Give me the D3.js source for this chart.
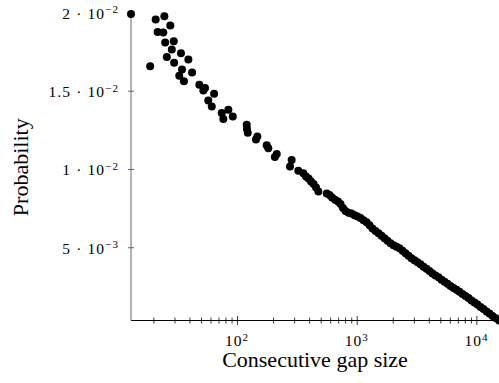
<!DOCTYPE html>
<html>
<head>
<meta charset="utf-8">
<script src="https://cdn.jsdelivr.net/npm/d3@7"></script>
<style>
  body { margin: 0; background: #fff; }
  text { font-family: "Liberation Serif", "DejaVu Serif", serif; fill: #000; }
</style>
</head>
<body>
<svg id="chart"></svg>
<script>
var svgWidth = 499, svgHeight = 383;

// consecutive gap size (x) and probability (y)
var gap = [13, 18.8, 20.9, 21.7, 24.2, 24.7, 25.1, 25.9, 27.7, 28.5, 29.6, 29.8,
  32.9, 34.0, 34.7, 36.0, 39.2, 42.1, 48.4, 52.3, 54.0, 57.5, 61.5, 64.3, 74.5,
  76.8, 84.6, 92.1, 120.5, 121, 122.9, 144, 147.8, 177, 182.5, 207, 214.6, 277,
  286, 325, 358, 377, 396, 415, 436, 457, 478, 562, 593, 622, 659, 698, 732, 768,
  806, 854, 905, 959, 1016, 1076, 1140, 1208, 1279, 1355, 1436, 1521, 1612, 1707,
  1808, 1916, 2030, 2150, 2278, 2413, 2556, 2708, 2869, 3040, 3220, 3412, 3614,
  3829, 4057, 4298, 4553, 4824, 5110, 5414, 5736, 6076, 6437, 6820, 7225, 7654,
  8109, 8590, 9101, 9641, 10210, 10820, 11460, 12150, 12860, 13630, 14440, 15450];
var prob = [0.0199, 0.01657, 0.01955, 0.01875, 0.01872, 0.01976, 0.01808, 0.01716,
  0.01917, 0.01763, 0.01816, 0.01678, 0.01596, 0.0174, 0.01635, 0.0156, 0.01699,
  0.01617, 0.01538, 0.01502, 0.01517, 0.01438, 0.01399, 0.01481, 0.01357, 0.01319,
  0.01378, 0.01335, 0.01282, 0.01256, 0.01231, 0.01189, 0.01207, 0.01151, 0.01133,
  0.01077, 0.01096, 0.01015, 0.01058, 0.00989, 0.00972, 0.00952, 0.00939, 0.0092,
  0.00904, 0.00881, 0.00856, 0.00844, 0.00833, 0.00817, 0.00804, 0.00792, 0.00776,
  0.0075, 0.00731, 0.00721, 0.00715, 0.00705, 0.00696, 0.00686, 0.00673, 0.0066,
  0.00641, 0.00619, 0.00603, 0.0059, 0.00574, 0.00558, 0.00542, 0.00526, 0.00513,
  0.00503, 0.00494, 0.00478, 0.00462, 0.00446, 0.00429, 0.00417, 0.00404, 0.00391,
  0.00375, 0.00362, 0.00349, 0.00333, 0.0032, 0.00308, 0.00292, 0.00279, 0.00266,
  0.00253, 0.0024, 0.00228, 0.00215, 0.00202, 0.00189, 0.00176, 0.0016, 0.00147,
  0.00135, 0.00119, 0.00106, 0.0009, 0.00077, 0.00061, 0.00048, 0.00032];

var yTicks = [0.005, 0.01, 0.015, 0.02];
var yTickMant = ["5", "1", "1.5", "2"];
var yTickExp = ["\u22123", "\u22122", "\u22122", "\u22122"];
var xTicks = [100, 1000, 10000];
var xTickExp = ["2", "3", "4"];

var plotLeft = 131, plotRight = 499, plotTop = 14, plotBottom = 320.5;

var x = d3.scaleLog().domain(d3.extent(gap)).range([plotLeft, plotRight]);
var y = d3.scaleLinear().domain(d3.extent(prob)).range([plotBottom, plotTop]);

var svg = d3.select("#chart")
    .attr("width", svgWidth)
    .attr("height", svgHeight);

// minor ticks on the log axis: 2..9 times each power of ten inside the domain
var minor = [];
[10, 100, 1000, 10000].forEach(function(p) {
  for (var k = 2; k <= 9; k++) {
    var v = k * p;
    if (v >= x.domain()[0] && v <= x.domain()[1]) minor.push(v);
  }
});

var xAxis = svg.append("g")
    .attr("transform", "translate(0," + plotBottom + ")")
    .call(d3.axisBottom(x).tickValues(minor.concat(xTicks)).tickFormat("").tickSizeOuter(0));
xAxis.select(".domain").attr("stroke", "#000").attr("stroke-width", 1)
    .attr("d", "M" + plotLeft + ",0H" + plotRight);
xAxis.selectAll(".tick line")
    .attr("stroke", "#000").attr("stroke-width", 0.8)
    .attr("y1", d => xTicks.indexOf(d) >= 0 ? -4.5 : -3)
    .attr("y2", d => xTicks.indexOf(d) >= 0 ? 4.5 : 3);

var yAxis = svg.append("g")
    .attr("transform", "translate(" + plotLeft + ",0)")
    .call(d3.axisLeft(y).tickValues(yTicks).tickFormat("").tickSizeOuter(0));
yAxis.select(".domain").attr("stroke", "#666").attr("stroke-width", 1)
    .attr("d", "M0," + plotTop + "V" + plotBottom);
yAxis.selectAll(".tick line")
    .attr("stroke", "#444").attr("stroke-width", 0.8)
    .attr("x1", -3).attr("x2", 3);

// tick labels, written as mantissa/power with a raised exponent
var xl = svg.append("g").selectAll("text")
    .data(xTicks)
    .enter()
    .append("text")
    .attr("x", d => x(d))
    .attr("y", 346)
    .attr("text-anchor", "middle")
    .style("font-size", "15.5px")
    .style("letter-spacing", "1px");
xl.append("tspan").text("10");
xl.append("tspan").attr("dy", -5.5).style("font-size", "11px").text((d, i) => xTickExp[i]);

var yl = svg.append("g").selectAll("text")
    .data(yTicks)
    .enter()
    .append("text")
    .attr("x", 119)
    .attr("y", d => y(d) + 6.5)
    .attr("text-anchor", "end")
    .style("font-size", "15.5px")
    .style("letter-spacing", "1.1px");
yl.append("tspan").text((d, i) => yTickMant[i] + " \u00b7 10");
yl.append("tspan").attr("dy", -5.5).style("font-size", "11px").text((d, i) => yTickExp[i]);

svg.append("g").selectAll("circle")
    .data(gap)
    .enter()
    .append("circle")
    .attr("cx", d => x(d))
    .attr("cy", (d, i) => y(prob[i]))
    .attr("r", 4)
    .attr("fill", "#000");

svg.append("text")
    .attr("x", (plotLeft + plotRight) / 2)
    .attr("y", 367)
    .attr("text-anchor", "middle")
    .style("font-size", "22px")
    .text("Consecutive gap size");

svg.append("text")
    .attr("transform", "translate(28," + (plotTop + plotBottom) / 2 + ") rotate(-90)")
    .attr("text-anchor", "middle")
    .style("font-size", "22px")
    .text("Probability");
</script>
</body>
</html>
